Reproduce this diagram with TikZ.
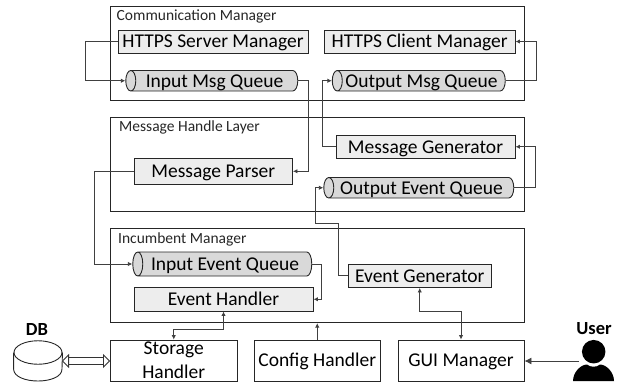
\documentclass[tikz,border=0pt]{standalone}
\usepackage{fontspec}
\setmainfont{Carlito}
\usetikzlibrary{positioning,shapes.geometric,arrows.meta}

\tikzset{
  oneline/.style={text height=12.5pt, text depth=0pt},
  frame/.style={draw=black!85, line width=0.9pt, inner sep=0pt},
  framelabel/.style={inner sep=0pt, anchor=west, font=\fontsize{15.5}{17}\selectfont, text=black!85},
  module/.style={oneline, draw=black!85, line width=0.9pt, fill=gray!14, inner sep=0pt, font=\fontsize{19.5}{21}\selectfont},
  outerbox/.style={draw=black!85, line width=0.9pt, inner sep=0pt, align=center, font=\fontsize{19.5}{24}\selectfont},
  queue/.style={oneline, cylinder, shape border rotate=180, aspect=0.8, draw=black!85, line width=0.9pt,
    cylinder uses custom fill, cylinder body fill=gray!30, cylinder end fill=gray!30,
    inner sep=0pt, font=\fontsize{19.5}{21}\selectfont},
  link/.style={draw=black!75, line width=0.9pt, -{Latex[length=4.5pt,width=4.5pt]}},
  twolink/.style={draw=black!75, line width=0.9pt, {Latex[length=4.5pt,width=4.5pt]}-{Latex[length=4.5pt,width=4.5pt]}},
  actor/.style={inner sep=0pt, font=\fontsize{18.5}{20}\selectfont\bfseries}
}

\begin{document}
\begin{tikzpicture}[x=1pt, y=-1pt]

  \useasboundingbox (0,0) rectangle (621,388);

  \node (comm) [frame, minimum width=413.5pt, minimum height=94pt] at (317.25,53) {};
  \node (handle) [frame, minimum width=413.5pt, minimum height=94pt] at (317.25,164.5) {};
  \node (incumbent) [frame, minimum width=413.5pt, minimum height=94pt] at (317.25,275.7) {};

  \node (commlabel) [framelabel] at (116.5,16) {Communication Manager};
  \node (handlelabel) [framelabel] at (119,127.5) {Message Handle Layer};
  \node (incumbentlabel) [framelabel] at (118,239) {Incumbent Manager};

  \node (server) [module, minimum width=190pt, minimum height=23pt] at (213,41.5) {HTTPS Server Manager};
  \node (client) [module, minimum width=190.5pt, minimum height=23pt] at (419.75,41.5) {HTTPS Client Manager};
  \node (inmsg) [queue, minimum width=20.5pt, minimum height=172pt] at (214.5,80.75) {Input Msg Queue};
  \node (outmsg) [queue, minimum width=20.5pt, minimum height=173pt] at (421.5,80.75) {Output Msg Queue};

  \node (parser) [module, minimum width=158.5pt, minimum height=25.5pt] at (213.25,171.25) {Message Parser};
  \node (generator) [module, minimum width=179pt, minimum height=23.5pt] at (425.5,146.75) {Message Generator};
  \node (outevent) [queue, minimum width=20.5pt, minimum height=190pt] at (421.5,187.75) {Output Event Queue};

  \node (inevent) [queue, minimum width=24pt, minimum height=179pt] at (225,264) {Input Event Queue};
  \node (handler) [module, minimum width=179pt, minimum height=23.5pt] at (223.5,299.25) {Event Handler};
  \node (eventgen) [module, minimum width=143.5pt, minimum height=23.5pt] at (419.75,275.75) {Event Generator};

  \node (storage) [outerbox, minimum width=126.5pt, minimum height=41pt] at (173.75,360.5) {Storage\\Handler};
  \node (config) [outerbox, oneline, minimum width=125.5pt, minimum height=41pt] at (317.25,360.5) {Config Handler};
  \node (gui) [outerbox, oneline, minimum width=126pt, minimum height=41pt] at (461,360.5) {GUI Manager};

  \node (db) [ellipse, draw=black!85, line width=0.9pt, inner sep=0pt, minimum width=48pt, minimum height=23.5pt] at (38,352.5) {};
  \draw [draw=black!85, line width=0.9pt] (db.west) -- ++(0,16.5) .. controls (14,385) and (62,385) .. (62,369) -- (db.east);
  \coordinate (dbport) at (62,361);
  \node (dblabel) [actor] at (37,329) {DB};
  \node (userlabel) [actor] at (594,329) {User};

  \node (userhead) [circle, fill=black, inner sep=0pt, minimum size=23.5pt] at (593.7,351.7) {};
  \fill (573,381) .. controls (573,372) and (581,364.5) .. (587,364.5) .. controls (590,367.5) and (597,367.5) .. (600,364.5)
    .. controls (606,364.5) and (614,372) .. (614,381) -- cycle;
  \coordinate (userarm) at (579,361);

  \draw [link] (server.west) -- ++(-32.5,0) |- (inmsg.west);
  \draw [link] (inmsg.east) -- ++(10.5,0) |- (parser.east);
  \draw [link] (generator.west) -- ++(-13,0) |- (outmsg.west);
  \draw [link] (outmsg.east) -- ++(31,0) |- (client.east);
  \draw [link] (outevent.east) -- ++(21.5,0) |- (generator.east);
  \draw [link] (eventgen.west) -- ++(-9,0) -- ++(0,-52.75) -- ++(-23.5,0) |- (outevent.west);
  \draw [link] (parser.west) -- ++(-39,0) |- (inevent.west);
  \draw [link] (inevent.east) -- ++(9.5,0) |- (handler.east);
  \draw [twolink] (handler.south) -- ++(0,18) -| (storage.north);
  \draw [link] (config.north) -- (incumbent.south -| config.north);
  \draw [twolink] (eventgen.south) -- ++(0,23.5) -| (gui.north);
  \draw [draw=black!75, line width=0.9pt, -{Latex[length=7pt,width=7pt]}] (userarm) -- (gui.east |- userarm);
  \draw [draw=black!80, double, double distance=6pt, line width=0.8pt,
    {Triangle[open,length=7pt,width=14pt]}-{Triangle[open,length=7pt,width=14pt]}] (dbport) -- (dbport -| storage.west);

\end{tikzpicture}
\end{document}
